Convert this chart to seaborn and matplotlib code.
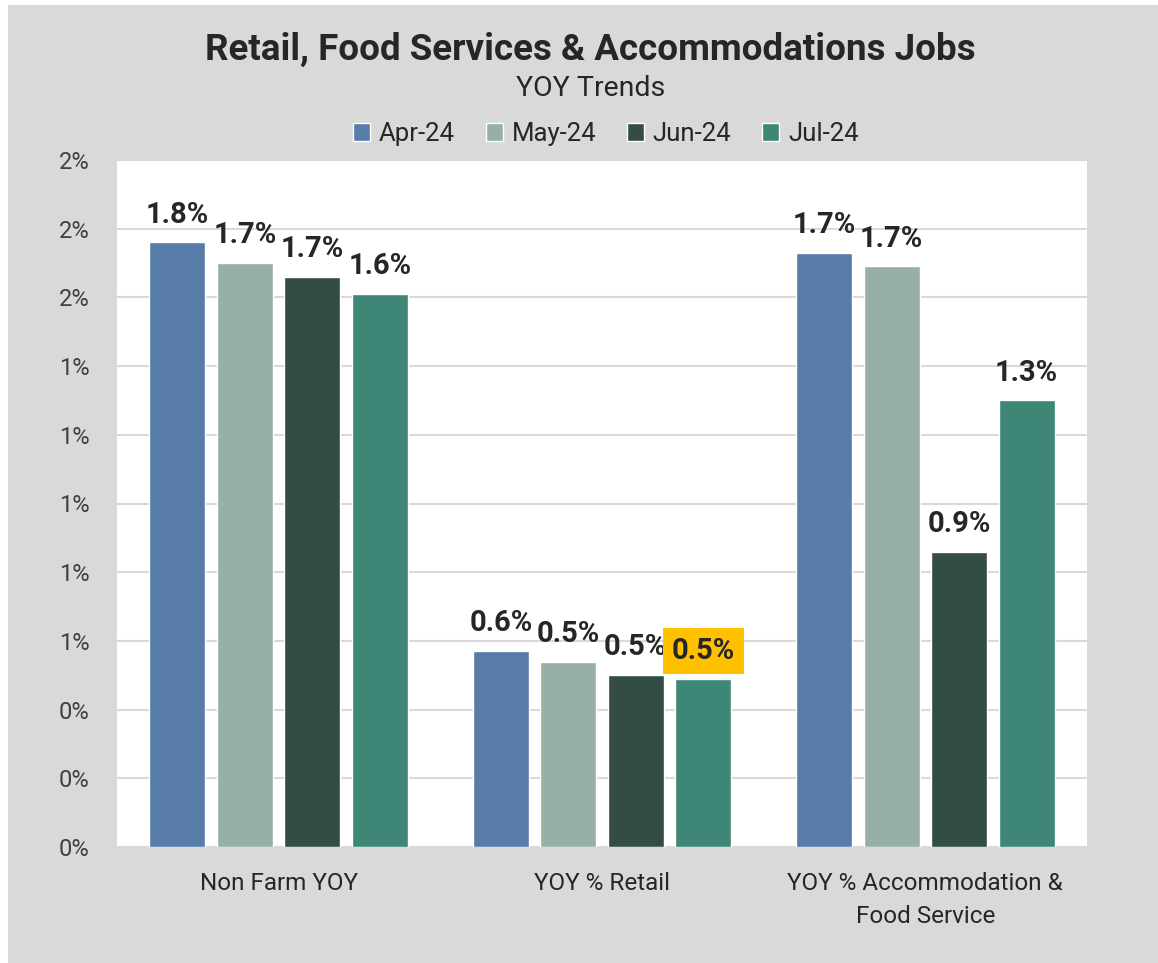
import matplotlib
matplotlib.use("Agg")
import matplotlib.pyplot as plt
from matplotlib.patches import Rectangle
from matplotlib.ticker import FixedLocator, FuncFormatter
import numpy as np
import pandas as pd
import seaborn as sns

# Series (YOY % change) per category
categories = ["Non Farm YOY", "YOY % Retail", "YOY % Accommodation &\nFood Service"]
months = ["Apr-24", "May-24", "Jun-24", "Jul-24"]
apr_24 = [1.76, 0.57, 1.73]
may_24 = [1.70, 0.54, 1.69]
jun_24 = [1.66, 0.50, 0.86]
jul_24 = [1.61, 0.49, 1.30]
y_ticks = [0.0, 0.2, 0.4, 0.6, 0.8, 1.0, 1.2, 1.4, 1.6, 1.8, 2.0]

colors = {"Apr-24": "#587CA8", "May-24": "#97AFA7", "Jun-24": "#344C46", "Jul-24": "#3E8676"}

rows = []
for m, vals in zip(months, [apr_24, may_24, jun_24, jul_24]):
    for c, v in zip(categories, vals):
        rows.append({"category": c, "month": m, "value": v})
df = pd.DataFrame(rows)

sns.set_theme(style="white")
plt.rcParams["font.family"] = ["Roboto", "DejaVu Sans"]

BG = "#D9D9D9"
TXT = "#262626"

fig = plt.figure(figsize=(11.58, 9.63), dpi=100, facecolor="white")
fig.patches.append(Rectangle((8 / 1158, 0), 1, 1 - 5 / 963, transform=fig.transFigure,
                             facecolor=BG, edgecolor="none", zorder=-10))

ax = fig.add_axes([117 / 1158, 1 - 847 / 963, (1087 - 117) / 1158, (847 - 160) / 963])
ax.set_facecolor("white")

sns.barplot(data=df, x="category", y="value", hue="month", order=categories,
            hue_order=months, palette=colors, width=0.835, gap=0.17,
            saturation=1, ax=ax, zorder=3)

ax.set_xlim(-0.5, 2.5)
ax.set_ylim(0, 2.0)
ax.yaxis.set_major_locator(FixedLocator(y_ticks))
ax.yaxis.set_major_formatter(FuncFormatter(lambda v, _: f"{np.round(v):.0f}%"))
ax.grid(axis="y", color="#D9D9D9", linewidth=1.5, zorder=0)
ax.set_axisbelow(True)
for s in ax.spines.values():
    s.set_visible(False)
ax.set_xlabel("")
ax.set_ylabel("")
ax.tick_params(axis="y", length=0, pad=20, labelsize=17, labelcolor="#404040")
ax.tick_params(axis="x", length=0, pad=18, labelsize=17.5, labelcolor=TXT)
for lbl in ax.get_xticklabels():
    lbl.set_linespacing(1.55)

# Value labels above each bar
for container, m in zip(ax.containers, months):
    labels = [f"{v:.1f}%" for v in container.datavalues]
    texts = ax.bar_label(container, labels=labels, padding=10, fontsize=21,
                         fontweight="bold", color=TXT)
    if m == "Jul-24":
        texts[1].set_bbox(dict(boxstyle="square,pad=0.3", facecolor="#FFC000",
                               edgecolor="none"))

# Legend above the plot area
handles, labs = ax.get_legend_handles_labels()
if ax.legend_:
    ax.legend_.remove()
fig.legend(handles, labs, loc="center", bbox_to_anchor=(606 / 1158, 1 - 134 / 963),
           ncol=4, frameon=False, fontsize=18.5, handlelength=0.65, handleheight=0.65,
           handletextpad=0.35, columnspacing=1.2, labelcolor=TXT)

fig.text(590 / 1158, 1 - 50 / 963, "Retail, Food Services & Accommodations Jobs",
         ha="center", va="center", fontsize=26.5, fontweight="bold", color=TXT)
fig.text(591 / 1158, 1 - 88 / 963, "YOY Trends", ha="center", va="center",
         fontsize=20.5, color=TXT)

fig.savefig("out.png", dpi=100, facecolor=fig.get_facecolor())
